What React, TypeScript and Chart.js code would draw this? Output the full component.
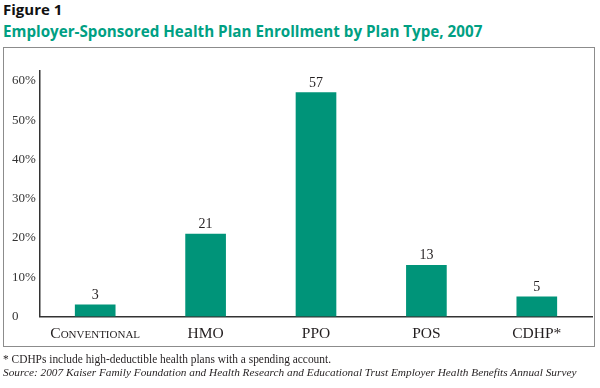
import React, { useEffect, useRef } from 'react';
import { Chart, registerables } from 'chart.js';

Chart.register(...registerables);

const categories = ['Conventional', 'HMO', 'PPO', 'POS', 'CDHP*'];
const enrollment = [3, 21, 57, 13, 5];
const yTickValues = [0, 10, 20, 30, 40, 50, 60];
const yMax = 62.5;

const GREEN = '#009479';
const TEXT = '#231f20';
const SERIF = '"Liberation Serif", "DejaVu Serif", serif';

const valueLabels = {
  id: 'valueLabels',
  afterDatasetsDraw(chart: any) {
    const ctx = chart.ctx;
    const meta = chart.getDatasetMeta(0);
    const data = chart.data.datasets[0].data;
    ctx.save();
    ctx.font = `14px ${SERIF}`;
    ctx.fillStyle = TEXT;
    ctx.textAlign = 'center';
    ctx.textBaseline = 'alphabetic';
    meta.data.forEach((el: any, i: number) => {
      ctx.fillText(String(data[i]), el.x, el.y - 6);
    });
    ctx.restore();
  },
};

function BarChart() {
  const ref = useRef<HTMLCanvasElement | null>(null);
  useEffect(() => {
    if (!ref.current) return;
    const chart = new Chart(ref.current, {
      type: 'bar',
      data: {
        labels: categories,
        datasets: [
          {
            data: enrollment,
            backgroundColor: GREEN,
            borderWidth: 0,
            barThickness: 40,
          },
        ],
      },
      options: {
        animation: false,
        responsive: false,
        devicePixelRatio: 1,
        layout: { padding: { left: 12, right: 8, top: 71, bottom: 41.5 } },
        plugins: { legend: { display: false }, tooltip: { enabled: false } },
        scales: {
          x: {
            offset: true,
            grid: { display: false, drawTicks: false },
            border: { display: true, color: '#333', width: 1.5, dash: [1.5, 2.5] },
            ticks: {
              padding: 8,
              color: TEXT,
              font: { family: SERIF, size: 15.5, weight: 'small-caps' as any },
              maxRotation: 0,
              autoSkip: false,
            },
            afterFit: (s: any) => {
              s.height = 30;
            },
          },
          y: {
            min: 0,
            max: yMax,
            grid: { display: false, drawTicks: false },
            border: { display: true, color: '#333', width: 1.5, dash: [1.5, 2.5] },
            afterBuildTicks: (s: any) => {
              s.ticks = yTickValues.map((v) => ({ value: v }));
            },
            ticks: {
              crossAlign: 'far',
              color: '#333',
              font: { family: SERIF, size: 13 },
              callback: (v: any) => (Number(v) === 0 ? '0' : `${v}%`),
            },
            afterFit: (s: any) => {
              s.width = 28;
            },
          },
        },
      },
      plugins: [valueLabels],
    });
    return () => chart.destroy();
  }, []);
  return <canvas ref={ref} width={600} height={388} style={{ display: 'block', width: 600, height: 388 }} />;
}

export default function App() {
  return (
    <div style={{ position: 'absolute', left: 0, top: 0, width: 600, height: 388, background: '#fff', overflow: 'hidden' }}>
      <div
        style={{
          position: 'absolute', left: 3, top: 1.7, font: '700 15px "Open Sans", sans-serif', lineHeight: '15px', color: '#111', whiteSpace: 'nowrap',
        }}
      >
        Figure 1
      </div>
      <div
        style={{
          position: 'absolute', left: 3, top: 23.5, font: '700 15.2px "Open Sans", sans-serif', lineHeight: '15px', color: '#00a083', whiteSpace: 'nowrap',
        }}
      >
        Employer-Sponsored Health Plan Enrollment by Plan Type, 2007
      </div>
      <div
        style={{
          position: 'absolute', left: 3, top: 47, width: 592, height: 300, boxSizing: 'border-box', border: '1.5px solid #8c8c8c',
        }}
      />
      <div style={{ position: 'absolute', left: 0, top: 0 }}>
        <BarChart />
      </div>
      <div
        style={{
          position: 'absolute', left: 3, top: 353, font: `12px ${SERIF}`, lineHeight: '12px', color: TEXT, whiteSpace: 'nowrap',
          transform: 'scaleX(0.95)', transformOrigin: '0 0',
        }}
      >
        * CDHPs include high-deductible health plans with a spending account.
      </div>
      <div
        style={{
          position: 'absolute', left: 3, top: 366, font: `italic 11.3px ${SERIF}`, lineHeight: '12px', color: TEXT, whiteSpace: 'nowrap',
        }}
      >
        Source: 2007 Kaiser Family Foundation and Health Research and Educational Trust Employer Health Benefits Annual Survey
      </div>
    </div>
  );
}
